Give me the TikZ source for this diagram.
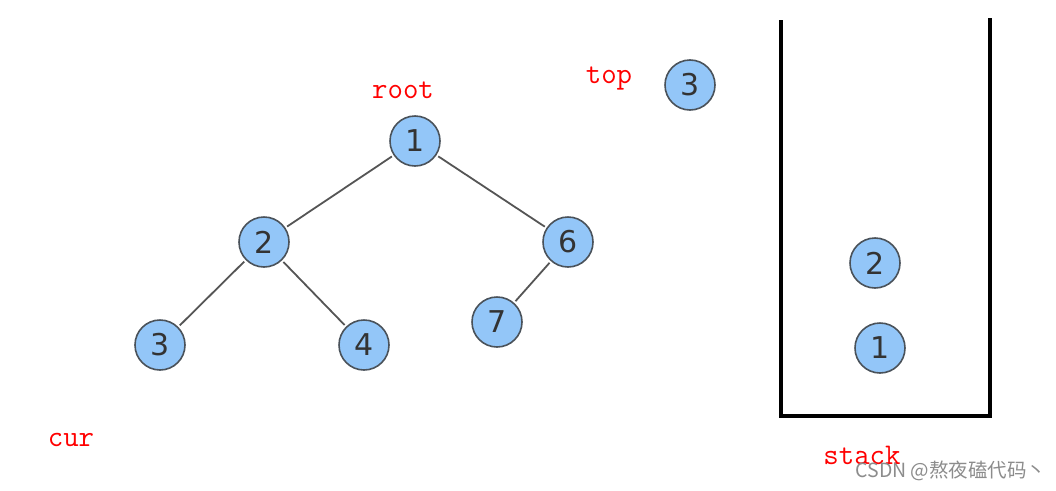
\documentclass[tikz,border=0pt]{standalone}
\usepackage{fontspec}
\usepackage{xcolor}
\newfontfamily\numfont{DejaVu Sans}
\newfontfamily\cjk{Noto Sans CJK SC}
\definecolor{NodeBlue}{HTML}{93C6F8}
\definecolor{NodeRim}{HTML}{4A525A}
\definecolor{EdgeGray}{HTML}{555555}

\tikzset{
	vtx/.style={circle, draw=NodeRim, line width=1.6pt, fill=NodeBlue,
		minimum size=50pt, inner sep=0pt, font=\numfont\fontsize{30}{30}\selectfont, text=black!80},
	edge/.style={draw=EdgeGray, line width=1.8pt, shorten <=2pt, shorten >=2pt},
	tag/.style={text=red, font=\ttfamily\fontsize{30}{30}\selectfont, inner sep=0pt},
	stackwall/.style={line width=4.5pt, line cap=butt}
}

\begin{document}
\begin{tikzpicture}[x=1pt,y=-1pt]
	\useasboundingbox (0,0) rectangle (1056,490);
	% tree
	\foreach \N/\X/\Y/\L in {v1/415/141/1, v2/264/242/2, v6/568/242/6,
		v3/160/345/3, v4/364/345/4, v7/497/322/7}
	{\node[vtx] (\N) at (\X,\Y) {\L};}
	\draw[edge] (v1) -- (v2);
	\draw[edge] (v1) -- (v6);
	\draw[edge] (v2) -- (v3);
	\draw[edge] (v2) -- (v4);
	\draw[edge] (v6) -- (v7);
	% stack and its contents
	\draw[stackwall] (781,20) -- (781,416) -- (990,416) -- (990,18);
	\foreach \N/\X/\Y/\L in {t3/690/85/3, s2/875/263/2, s1/880/348/1}
	{\node[vtx] (\N) at (\X,\Y) {\L};}
	% labels
	\node[tag] (root) at (403,90) {root};
	\node[tag] (top) at (609,79) {top};
	\node[tag] (cur) at (71,440) {cur};
	\node[tag] (stack) at (862,455) {stack};
	\node[text=black!45, font=\cjk\fontsize{19.5}{19.5}\selectfont, inner sep=0pt] (mark) at (951,471) {CSDN @熬夜磕代码丶};
\end{tikzpicture}
\end{document}
